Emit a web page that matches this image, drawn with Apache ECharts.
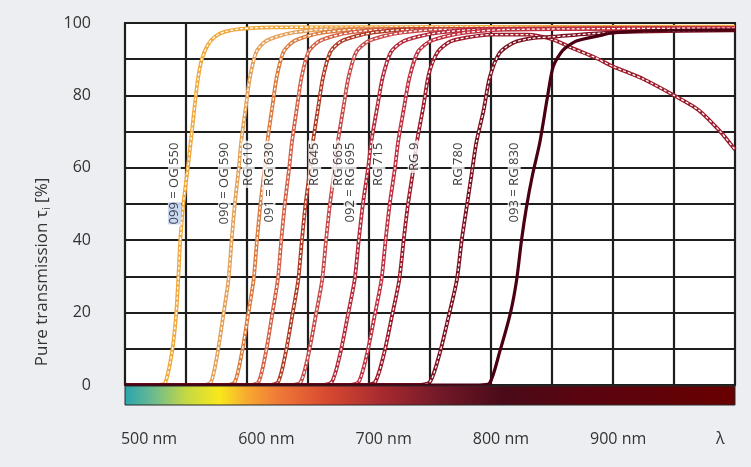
<!DOCTYPE html>
<html>
<head>
<meta charset="utf-8">
<script src="https://cdn.jsdelivr.net/npm/echarts@6/dist/echarts.min.js"></script>
<style>html,body{margin:0;padding:0;background:#eceef1;}#c{width:751px;height:467px;}</style>
</head>
<body>
<div id="c"></div>
<script>
// ---- data (wavelength nm, transmission %) ----
const OG550 = [[500,0],[528,0],[533,0.6],[538.5,9],[541.8,19],[543.6,29],[545.3,40],[547.8,50],[551.5,60],[554.5,69],[557.4,78],[560,85],[563,90],[568,94],[574,96.3],[582,97.6],[595,98.4],[620,98.8],[1000,99]];
const OG590 = [[500,0],[564,0],[570.5,0.8],[575.7,8.5],[580.9,20],[584.8,29],[587.4,40],[590,50],[593.3,60],[595.2,67],[599.1,77],[602.4,85],[607.6,92],[614.7,94.8],[625.1,96.3],[638.8,97.4],[661.5,98.2],[1000,98.6]];
const RG610 = [[500,0],[583,0],[590,0.8],[595.6,8.5],[601.2,20],[605.4,29],[608.2,40],[611,50],[614.5,60],[616.6,67],[620.8,77],[624.3,85],[629.9,92],[637.6,94.8],[648.8,96.3],[663.5,97.4],[688,98.2],[1000,98.6]];
const RG630 = [[500,0],[602,0],[609.4,0.8],[615.2,8.5],[620.9,20],[625.2,29],[628.1,40],[631,50],[634.6,60],[636.8,67],[641.1,77],[644.7,85],[650.4,92],[658.4,94.8],[669.9,96.3],[685,97.4],[710,98.2],[1000,98.6]];
const RG645 = [[500,0],[618,0],[625.5,0.8],[631.5,8.5],[637.5,20],[642,29],[645,40],[648,50],[651.8,60],[654,67],[658.5,77],[662.3,85],[668.3,92],[676.5,94.8],[688.5,96.3],[704.3,97.4],[730.5,98.2],[1000,98.6]];
const RG665 = [[500,0],[636,0],[644,0.8],[650.4,8.5],[656.8,20],[661.6,29],[664.8,40],[668,50],[672,60],[674.4,67],[679.2,77],[683.2,85],[689.6,92],[698.4,94.8],[711.2,96.3],[728,97.4],[756,98.2],[1000,98.6]];
const RG695 = [[500,0],[661,0],[669.5,0.8],[676.3,8.5],[683.1,20],[688.2,29],[691.6,40],[695,50],[699.3,60],[701.8,67],[706.9,77],[711.2,85],[718,92],[727.3,94.8],[740.9,96.3],[758.8,97.4],[788.5,98.2],[1000,98.6]];
const RG715 = [[500,0],[683,0],[691.5,0.8],[698.3,8.5],[705.1,20],[710.2,29],[713.6,40],[717,50],[721.3,60],[723.8,67],[728.9,77],[733.2,85],[740,92],[749.3,94.8],[762.9,96.3],[780.8,97.4],[810.5,98.2],[1000,98.6]];
const RG9   = [[500,0],[696,0],[705,0.8],[712.2,8.5],[719.4,20],[724.8,29],[728.4,40],[732,50],[736.5,60],[739.2,67],[744.6,77],[749.1,86],[756.3,92],[766.2,94.8],[780.6,96],[800,96.8],[830,96.8],[850,95.5],[867,93],[885,90.5],[900,88],[925,84.5],[950,80],[970,76],[988,70],[1000,65]];
const RG780 = [[500,0],[740,0],[750,0.9],[758,8.8],[766,20],[772,29],[776,40],[780,49],[784,58],[788,67],[794,76],[799,85],[807,91.7],[818,94.5],[834,95.8],[851,96.2],[880,97],[920,97.6],[1000,98]];
const RG830 = [[500,0],[790,0],[799,0.6],[807,9],[816,20],[821,29],[825,40],[829,49],[834,58],[840,67],[846,79],[851,88],[859,92.5],[870,95],[889,96.5],[900,97.3],[950,98],[1000,98]];

const curveNames  = ['099 = OG 550','090 = OG 590','RG 610','091 = RG 630','RG 645','RG 665','092 = RG 695','RG 715','RG 9','RG 780','093 = RG 830'];
const curveColors = ['#f0a83a','#e4a058','#dc7a3c','#d46046','#b03a22','#c84a4a','#b42a3a','#c03040','#9c1a2a','#7c1020','#4a0012'];
const curveDashed = [true,true,true,true,true,true,true,true,true,true,false];
// label top ends (nm, %)
const labelX = [540.5,581.5,601,618,655.5,674.5,684.5,708,737,773,819];
const labelY = [67.5,67.5,67.5,67.5,67.5,67.5,67.5,67.5,67.5,67.5,67.5];

const xLabelValues = [500,600,700,800,900,987];
const xLabelTexts  = ['500 nm','600 nm','700 nm','800 nm','900 nm','λ'];
const yLabelValues = [0,20,40,60,80,100];

const curves = [OG550,OG590,RG610,RG630,RG645,RG665,RG695,RG715,RG9,RG780,RG830];

const series = [];
curves.forEach((d,i)=>{
  series.push({type:'line', data:d, showSymbol:false, smooth:0.25, z:2+i*2,
    lineStyle:{color:curveColors[i], width: curveDashed[i]?3.8:3.2}});
  if (curveDashed[i]) series.push({type:'line', data:d, showSymbol:false, smooth:0.25, z:3+i*2,
    lineStyle:{color:'#fff', width:1.3, type:[3,2]}});
});
series.push({
  type:'scatter', symbolSize:0, z:50,
  data: labelX.map((x,i)=>({value:[x,labelY[i]], name:curveNames[i]})),
  label:{show:true, position:[0,0], align:'right', verticalAlign:'middle', rotate:90,
    formatter: p => p.dataIndex===0 ? '{hl|099} = OG 550' : p.name,
    fontFamily:'Noto Sans', fontSize:13, color:'#111', backgroundColor:'#fff', padding:[0,2],
    rich:{hl:{backgroundColor:'#bcd0ec', fontFamily:'Noto Sans', fontSize:13, color:'#223'}}}
});

const chart = echarts.init(document.getElementById('c'));
chart.setOption({
  backgroundColor:'#eceef1',
  animation:false,
  grid:{left:125,right:16,top:23,bottom:82,show:true,backgroundColor:'#fff',borderColor:'#1e1e1e',borderWidth:2},
  xAxis:[
    {type:'value',min:500,max:1000,interval:50,axisLine:{show:false},axisTick:{show:false},axisLabel:{show:false},
     splitLine:{show:true,lineStyle:{color:'#1e1e1e',width:2.2}}},
    {type:'value',min:479.5,max:999.6,position:'bottom',axisLine:{show:false},axisTick:{show:false},splitLine:{show:false},
     axisLabel:{customValues:xLabelValues,formatter:v=>xLabelTexts[xLabelValues.indexOf(v)],
       margin:46,fontSize:16,color:'#333',fontFamily:'Open Sans'}}
  ],
  yAxis:{type:'value',min:0,max:100,interval:10,axisLine:{show:false},axisTick:{show:false},
    splitLine:{show:true,lineStyle:{color:'#1e1e1e',width:2.2}},
    axisLabel:{formatter:v=>yLabelValues.indexOf(v)>=0?String(v):'',margin:34,fontSize:16,color:'#333',fontFamily:'Open Sans'}},
  graphic:[
    {type:'rect',z:100,shape:{x:125,y:386,width:610,height:19},
     style:{stroke:'#2a2a2a',lineWidth:1,fill:new echarts.graphic.LinearGradient(0,0,1,0,[
       {offset:0,color:'#28a4b0'},{offset:0.05,color:'#70bc8c'},{offset:0.1,color:'#c4d844'},{offset:0.155,color:'#f8e81c'},
       {offset:0.2,color:'#f8aa30'},{offset:0.25,color:'#f07a38'},{offset:0.33,color:'#d84a30'},{offset:0.42,color:'#a82a30'},
       {offset:0.52,color:'#701828'},{offset:0.62,color:'#4a0a18'},{offset:0.75,color:'#5a0410'},{offset:1,color:'#680000'}])}},
    {type:'text',z:100,x:42,y:272,rotation:Math.PI/2,
     style:{text:'Pure transmission τ{s|i} [%]',fontSize:17,fontFamily:'Open Sans',fill:'#333',align:'center',verticalAlign:'middle',
       rich:{s:{fontSize:11,fontFamily:'Open Sans',fill:'#333',padding:[9,0,0,0]}}}}
  ],
  series
});
</script>
</body>
</html>
